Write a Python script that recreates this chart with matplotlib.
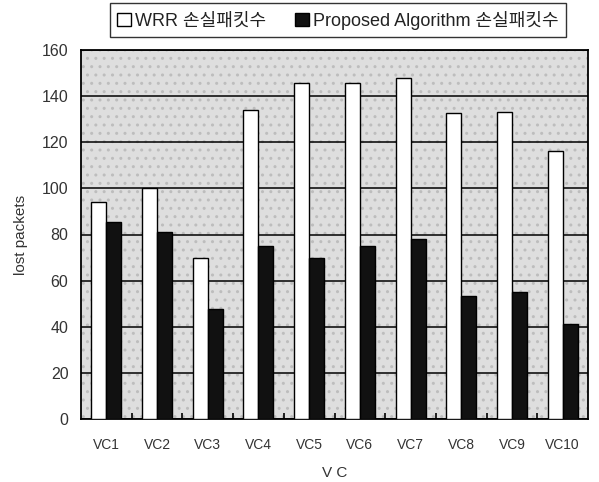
import matplotlib.pyplot as plt
import numpy as np
from matplotlib.patches import Patch

plt.rcParams["font.family"] = ["Liberation Sans", "Noto Sans CJK KR", "DejaVu Sans"]

# data
categories = ["VC1", "VC2", "VC3", "VC4", "VC5", "VC6", "VC7", "VC8", "VC9", "VC10"]
wrr_lost = [94, 100, 70, 134, 145.5, 145.5, 148, 132.5, 133, 116]
proposed_lost = [85.5, 81, 47.5, 75, 70, 75, 78, 53.5, 55, 41]
y_ticks = [0, 20, 40, 60, 80, 100, 120, 140, 160]

fig = plt.figure(figsize=(5.99, 4.82), dpi=100)
ax = fig.add_axes([81 / 599, 1 - 419 / 482, 507 / 599, 369 / 482])

x = np.arange(len(categories))
width = 0.295

ax.set_facecolor("#dedede")
# stippled background like the scanned original
ax.add_patch(plt.Rectangle((0, 0), 1, 1, transform=ax.transAxes, facecolor="none",
                           edgecolor="#bdbdbd", hatch="..", linewidth=0, zorder=0))
ax.set_axisbelow(True)
ax.grid(axis="y", color="black", linewidth=1.1)

ax.bar(x - width / 2, wrr_lost, width, color="white", edgecolor="black", linewidth=1.0, zorder=3)
ax.bar(x + width / 2, proposed_lost, width, color="#111111", edgecolor="black", linewidth=1.0, zorder=3)

ax.set_xlim(-0.5, len(categories) - 0.5)
ax.set_ylim(0, 160)
ax.set_yticks(y_ticks)
ax.set_xticks(x)
ax.set_xticklabels(categories)
ax.set_xticks(np.arange(len(categories) - 1) + 0.5, minor=True)
ax.tick_params(axis="x", which="major", length=0, pad=14, labelsize=10, labelcolor="#333333")
ax.tick_params(axis="x", which="minor", length=4, direction="in", width=1.2)
ax.tick_params(axis="y", length=0, pad=9, labelsize=11.5, labelcolor="#333333")

for s in ax.spines.values():
    s.set_linewidth(1.3)
    s.set_color("black")

ax.set_ylabel("lost packets", fontsize=11, color="#333333", labelpad=10)
ax.set_xlabel("V C", fontsize=11, color="#333333", labelpad=10)

handles = [
    Patch(facecolor="white", edgecolor="black", linewidth=1.0),
    Patch(facecolor="#111111", edgecolor="black"),
]
fig.legend(handles, ["WRR 손실패킷수", "Proposed Algorithm 손실패킷수"],
           loc="center", bbox_to_anchor=(338 / 599, 1 - 20 / 482), ncol=2,
           fontsize=13, frameon=True, fancybox=False, edgecolor="black",
           handlelength=0.75, handleheight=0.75, handletextpad=0.25, columnspacing=1.6,
           borderpad=0.4, borderaxespad=0, labelcolor="#222222")

fig.savefig("out.png", dpi=100)
